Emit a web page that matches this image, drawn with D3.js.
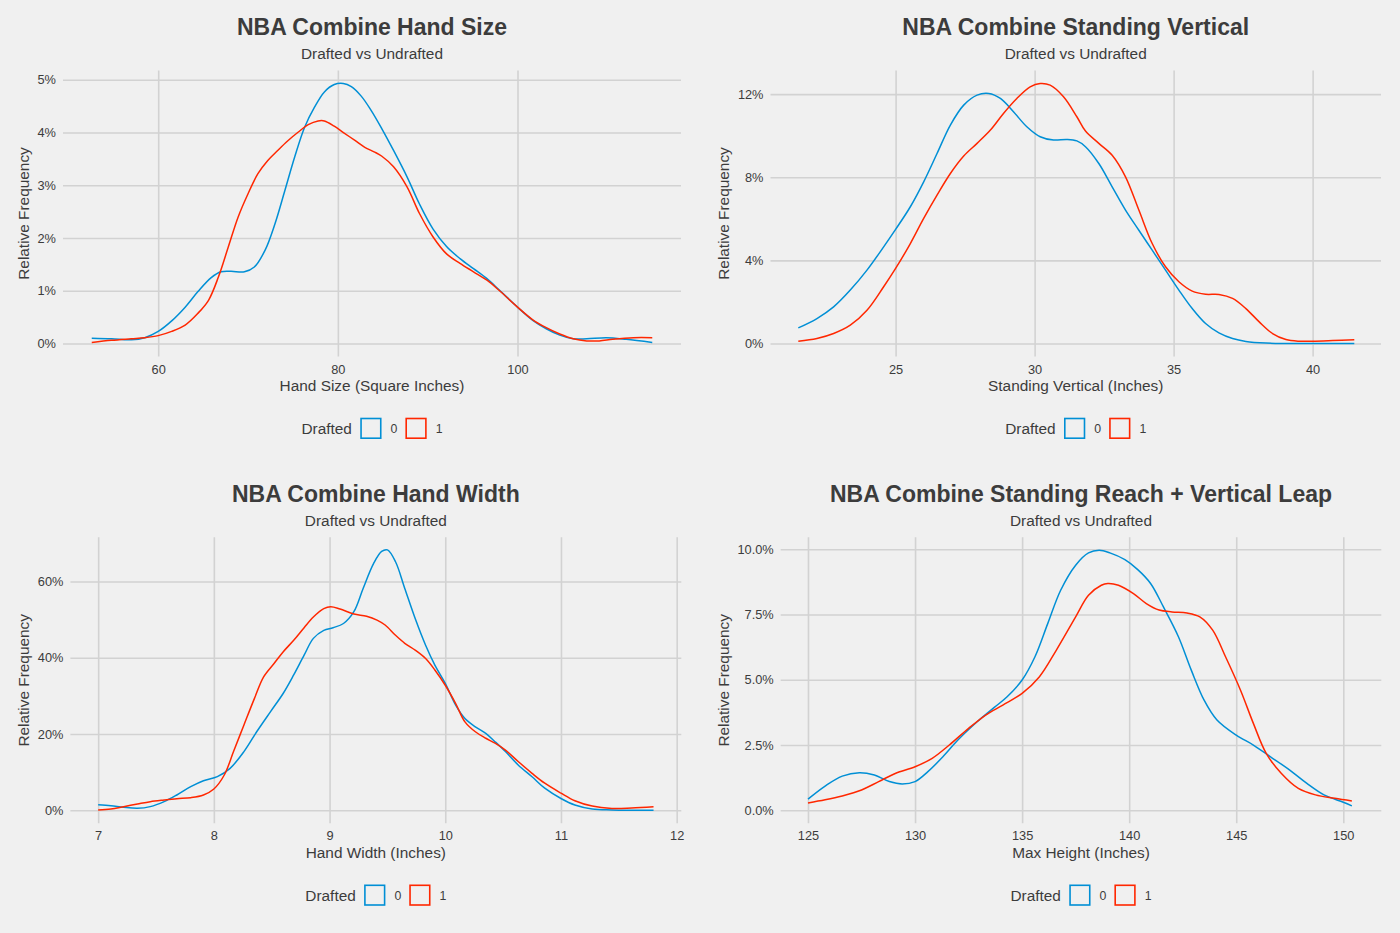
<!DOCTYPE html>
<html><head><meta charset="utf-8">
<script src="https://cdn.jsdelivr.net/npm/d3@7"></script>
<style>body{margin:0;background:#f0f0f0}</style>
</head><body><svg id="c" width="1400" height="933"></svg>
<script>
// ---------------- DATA (x value, relative frequency in %) ----------------
const groups = ["0", "1"];
const legendTitle = "Drafted";

const handSizeUndrafted = [[52.6,0.10],[54.8,0.09],[57.0,0.07],[58.5,0.11],[60,0.23],[61.5,0.43],[63.0,0.69],[64.4,0.98],[65.9,1.25],[67.0,1.36],[68.1,1.37],[69.6,1.36],[70.7,1.45],[71.9,1.77],[73.0,2.27],[74.1,2.90],[75.2,3.54],[76.3,4.10],[77.4,4.48],[78.5,4.77],[79.6,4.91],[80.6,4.93],[81.5,4.87],[82.6,4.69],[83.7,4.42],[84.9,4.07],[86.2,3.66],[87.7,3.16],[89.1,2.64],[90.6,2.17],[92.1,1.84],[93.6,1.61],[95.1,1.42],[96.6,1.23],[98.0,1.01],[100,0.69],[101.7,0.44],[103.2,0.28],[104.7,0.16],[106.2,0.09],[107.7,0.09],[109.9,0.11],[112.1,0.08],[115.0,0.02]];
const handSizeDrafted = [[52.6,0.02],[54.8,0.06],[57.0,0.09],[58.5,0.11],[60,0.15],[61.5,0.23],[63.0,0.35],[64.4,0.57],[65.6,0.82],[66.7,1.26],[67.8,1.83],[68.9,2.40],[70.0,2.84],[71.1,3.22],[72.2,3.47],[73.3,3.66],[74.4,3.84],[75.6,4.01],[76.7,4.15],[77.8,4.22],[78.5,4.22],[79.6,4.12],[80.7,3.99],[81.9,3.85],[83.0,3.72],[84.1,3.63],[84.9,3.55],[86.2,3.35],[87.7,2.97],[89.1,2.46],[90.6,2.02],[92.1,1.70],[93.6,1.52],[95.1,1.36],[96.6,1.20],[98.0,1.00],[100,0.69],[101.7,0.45],[103.2,0.30],[104.7,0.18],[106.2,0.09],[107.7,0.05],[109.1,0.05],[110.6,0.08],[112.9,0.11],[115.0,0.11]];

const standVertUndrafted = [[21.5,0.75],[22.17,1.20],[22.77,1.76],[23.37,2.57],[23.97,3.53],[24.57,4.65],[25.0,5.49],[25.53,6.58],[26.01,7.78],[26.49,9.14],[26.97,10.51],[27.45,11.47],[27.93,11.95],[28.35,12.03],[28.77,11.79],[29.24,11.15],[29.72,10.43],[30.2,9.95],[30.68,9.79],[31.16,9.82],[31.52,9.75],[31.83,9.47],[32.31,8.66],[32.79,7.54],[33.27,6.42],[33.75,5.45],[34.23,4.49],[34.71,3.53],[35.19,2.57],[35.67,1.68],[36.15,0.96],[36.63,0.51],[37.12,0.24],[37.6,0.10],[38.32,0.02],[39.04,0.0],[41.5,0.0]];
const standVertDrafted = [[21.5,0.11],[22.17,0.24],[22.77,0.48],[23.37,0.88],[23.97,1.60],[24.57,2.73],[25.0,3.61],[25.53,4.81],[26.01,6.02],[26.49,7.14],[26.97,8.18],[27.45,9.02],[27.93,9.63],[28.41,10.27],[28.88,11.07],[29.36,11.79],[29.84,12.35],[30.2,12.51],[30.56,12.43],[31.04,11.87],[31.52,10.91],[31.83,10.22],[32.31,9.63],[32.79,9.06],[33.27,8.02],[33.75,6.42],[34.23,4.81],[34.71,3.69],[35.19,2.97],[35.67,2.52],[36.15,2.37],[36.63,2.36],[37.12,2.17],[37.6,1.68],[38.08,1.04],[38.56,0.48],[39.04,0.19],[39.52,0.11],[40.0,0.11],[40.72,0.14],[41.5,0.18]];

const handWidthUndrafted = [[7.0,1.48],[7.11,1.22],[7.22,0.79],[7.34,0.52],[7.45,0.96],[7.57,2.27],[7.68,4.02],[7.80,6.2],[7.91,7.77],[8.03,8.82],[8.14,11.0],[8.26,15.4],[8.37,20.6],[8.49,25.9],[8.60,30.7],[8.69,35.5],[8.78,40.7],[8.86,45.1],[8.95,47.2],[9.03,47.9],[9.12,49.0],[9.21,52.1],[9.29,58.2],[9.38,64.7],[9.45,67.9],[9.50,68.3],[9.57,65.2],[9.65,58.2],[9.74,50.3],[9.83,43.3],[9.91,38.1],[10.0,33.3],[10.09,27.6],[10.17,24.1],[10.26,21.9],[10.35,20.2],[10.43,18.0],[10.52,15.4],[10.63,11.9],[10.75,8.8],[10.86,5.8],[11.0,3.1],[11.12,1.4],[11.27,0.35],[11.44,0.09],[11.8,0.0]];
const handWidthDrafted = [[7.0,0.09],[7.11,0.35],[7.22,0.96],[7.34,1.66],[7.45,2.27],[7.57,2.71],[7.68,3.06],[7.80,3.32],[7.91,4.02],[8.0,5.59],[8.09,9.26],[8.17,15.4],[8.26,22.4],[8.35,29.3],[8.43,35.0],[8.52,38.5],[8.60,41.6],[8.69,44.6],[8.78,47.9],[8.86,50.7],[8.95,52.9],[9.01,53.4],[9.09,52.8],[9.21,51.5],[9.32,50.9],[9.41,49.9],[9.48,48.6],[9.57,45.9],[9.65,43.8],[9.74,42.0],[9.83,39.8],[9.91,36.8],[10.0,32.8],[10.09,28.0],[10.17,23.2],[10.26,20.6],[10.35,18.9],[10.43,17.6],[10.52,15.8],[10.63,12.8],[10.75,9.7],[10.86,7.1],[11.0,4.5],[11.12,2.5],[11.27,1.1],[11.44,0.5],[11.61,0.6],[11.8,0.9]];

const maxHeightUndrafted = [[125,0.43],[125.8,0.93],[126.6,1.31],[127.4,1.44],[128.1,1.35],[128.8,1.10],[129.4,1.01],[130.0,1.10],[130.6,1.48],[131.3,2.05],[132.0,2.69],[132.9,3.39],[133.7,3.94],[134.3,4.35],[135.0,4.99],[135.6,5.88],[136.2,7.16],[136.8,8.43],[137.5,9.39],[138.1,9.86],[138.6,9.96],[139.1,9.86],[139.8,9.60],[140.4,9.22],[141.0,8.69],[141.6,7.79],[142.3,6.65],[142.9,5.37],[143.5,4.22],[144.1,3.46],[145.0,2.88],[145.8,2.50],[146.6,2.05],[147.5,1.54],[148.3,1.03],[149.1,0.59],[150.0,0.31],[150.4,0.17]];
const maxHeightDrafted = [[125,0.28],[125.8,0.40],[126.6,0.55],[127.5,0.78],[128.3,1.10],[129.1,1.42],[130.0,1.67],[130.8,1.99],[131.6,2.50],[132.5,3.14],[133.3,3.65],[134.1,4.03],[135.0,4.48],[135.8,5.11],[136.6,6.14],[137.5,7.41],[138.1,8.24],[138.7,8.62],[139.0,8.69],[139.5,8.62],[140.2,8.30],[140.8,7.92],[141.4,7.67],[142.0,7.60],[142.7,7.56],[143.3,7.41],[143.9,6.90],[144.5,5.88],[145.2,4.60],[145.8,3.33],[146.4,2.18],[147.1,1.42],[147.9,0.84],[148.7,0.59],[149.6,0.46],[150.4,0.36]];

const handSizeXTicks = [60, 80, 100];
const handSizeYTicks = [0, 1, 2, 3, 4, 5];
const standVertXTicks = [25, 30, 35, 40];
const standVertYTicks = [0, 4, 8, 12];
const handWidthXTicks = [7, 8, 9, 10, 11, 12];
const handWidthYTicks = [0, 20, 40, 60];
const maxHeightXTicks = [125, 130, 135, 140, 145, 150];
const maxHeightYTicks = [0, 2.5, 5, 7.5, 10];

const titles = ["NBA Combine Hand Size", "NBA Combine Standing Vertical", "NBA Combine Hand Width", "NBA Combine Standing Reach + Vertical Leap"];
const subtitle = "Drafted vs Undrafted";
const xLabels = ["Hand Size (Square Inches)", "Standing Vertical (Inches)", "Hand Width (Inches)", "Max Height (Inches)"];
const yLabel = "Relative Frequency";

// ---------------- STYLE / LAYOUT ----------------
const COLORS = ["#008FD5", "#FF2700"];
const BG = "#F0F0F0", GRID = "#D2D2D2", TXT = "#3C3C3C";
const FONT = '"Liberation Sans", Arial, Helvetica, sans-serif';
const pct0 = d => d3.format("d")(d) + "%";
const pct1 = d => d3.format(".1f")(d) + "%";

const panels = [
  {title: titles[0], xLabel: xLabels[0], series: [handSizeUndrafted, handSizeDrafted], xTicks: handSizeXTicks, yTicks: handSizeYTicks, fmt: pct0,
   left: 63, right: 681, top: 70.5, bottom: 356.5, xDom: [49.4, 118.2], yDom: [-0.246, 5.176]},
  {title: titles[1], xLabel: xLabels[1], series: [standVertUndrafted, standVertDrafted], xTicks: standVertXTicks, yTicks: standVertYTicks, fmt: pct0,
   left: 770.5, right: 1381, top: 70.5, bottom: 356.5, xDom: [20.5, 42.46], yDom: [-0.6255, 13.1355]},
  {title: titles[2], xLabel: xLabels[2], series: [handWidthUndrafted, handWidthDrafted], xTicks: handWidthXTicks, yTicks: handWidthYTicks, fmt: pct0,
   left: 70.4, right: 681.3, top: 537.3, bottom: 823.3, xDom: [6.76, 12.04], yDom: [-3.41, 71.61]},
  {title: titles[3], xLabel: xLabels[3], series: [maxHeightUndrafted, maxHeightDrafted], xTicks: maxHeightXTicks, yTicks: maxHeightYTicks, fmt: pct1,
   left: 780.7, right: 1381.3, top: 537.3, bottom: 823.3, xDom: [123.725, 151.775], yDom: [-0.498, 10.458]}
];

const svg = d3.select("#c");
svg.append("rect").attr("width", 1400).attr("height", 933).attr("fill", BG);

panels.forEach(p => {
  const g = svg.append("g");
  const x = d3.scaleLinear().domain(p.xDom).range([p.left, p.right]);
  const y = d3.scaleLinear().domain(p.yDom).range([p.bottom, p.top]);
  const cx = (p.left + p.right) / 2;

  const ya = g.append("g").attr("transform", `translate(${p.left},0)`)
    .call(d3.axisLeft(y).tickValues(p.yTicks).tickFormat(p.fmt).tickSize(-(p.right - p.left)).tickPadding(7));
  const xa = g.append("g").attr("transform", `translate(0,${p.bottom})`)
    .call(d3.axisBottom(x).tickValues(p.xTicks).tickFormat(d3.format("d")).tickSize(-(p.bottom - p.top)).tickPadding(8));
  [ya, xa].forEach(a => {
    a.select(".domain").remove();
    a.selectAll(".tick line").attr("stroke", GRID).attr("stroke-width", 1.6);
    a.selectAll(".tick text").attr("fill", TXT).style("font-family", FONT).style("font-size", "12.8px");
  });

  const line = d3.line().x(d => x(d[0])).y(d => y(d[1])).curve(d3.curveCatmullRom.alpha(0.5));
  p.series.forEach((s, i) => {
    g.append("path").datum(s).attr("d", line).attr("fill", "none")
      .attr("stroke", COLORS[i]).attr("stroke-width", 1.5);
  });

  g.append("text").attr("x", cx).attr("y", p.top - 35.5).attr("text-anchor", "middle")
    .style("font-family", FONT).style("font-size", "23px").style("font-weight", "bold").attr("fill", TXT).text(p.title);
  g.append("text").attr("x", cx).attr("y", p.top - 11.5).attr("text-anchor", "middle")
    .style("font-family", FONT).style("font-size", "15.4px").attr("fill", TXT).text(subtitle);

  g.append("text").attr("x", cx).attr("y", p.bottom + 34.2).attr("text-anchor", "middle")
    .style("font-family", FONT).style("font-size", "15.4px").attr("fill", TXT).text(p.xLabel);

  let minX = p.left;
  ya.selectAll(".tick text").each(function() { const b = this.getBBox(); minX = Math.min(minX, b.x + p.left); });
  const cy = (p.top + p.bottom) / 2;
  g.append("text").attr("transform", `translate(${minX - 8.5},${cy}) rotate(-90)`).attr("text-anchor", "middle")
    .style("font-family", FONT).style("font-size", "15.4px").attr("fill", TXT).text(yLabel);

  const lg = g.append("g");
  const base = p.bottom + 77.8;
  let cur = 0;
  const t = lg.append("text").attr("x", cur).attr("y", base).style("font-family", FONT).style("font-size", "15.4px").attr("fill", TXT).text(legendTitle);
  cur += t.node().getComputedTextLength() + 8.3;
  groups.forEach((k, i) => {
    lg.append("rect").attr("x", cur + 0.8).attr("y", p.bottom + 61.2 + 0.8).attr("width", 19.7).attr("height", 19.7)
      .attr("fill", BG).attr("stroke", COLORS[i]).attr("stroke-width", 1.6);
    cur += 21.3 + 9;
    const lt = lg.append("text").attr("x", cur).attr("y", base - 1).style("font-family", FONT).style("font-size", "12.3px").attr("fill", TXT).text(k);
    cur += lt.node().getComputedTextLength() + (i === 0 ? 8 : 0);
  });
  lg.attr("transform", `translate(${cx - cur / 2},0)`);
});
</script></body></html>
